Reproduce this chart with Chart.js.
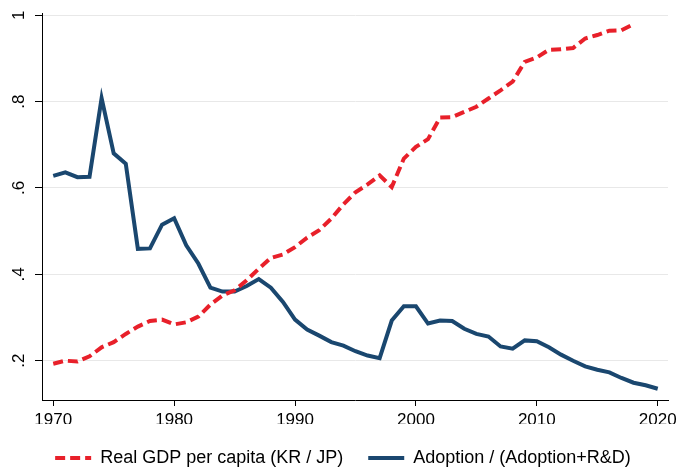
<!DOCTYPE html>
<html>
<head>
<meta charset="utf-8">
<script src="https://cdn.jsdelivr.net/npm/chart.js@4"></script>
<style>
  html, body { margin: 0; padding: 0; background: #fff; }
  #wrap { width: 678px; height: 470px; }
</style>
</head>
<body>
<div id="wrap"><canvas id="chart" width="678" height="470"></canvas></div>
<script>
const years = [];
for (let y = 1970; y <= 2020; y++) years.push(y);

// Real GDP per capita, Korea relative to Japan (ends 2018)
const gdpRatio = [
  0.193, 0.200, 0.198, 0.210, 0.231, 0.243, 0.262, 0.279, 0.292, 0.295,
  0.284, 0.289, 0.302, 0.330, 0.351, 0.363, 0.386, 0.413, 0.438, 0.446,
  0.463, 0.485, 0.502, 0.529, 0.562, 0.590, 0.608, 0.629, 0.602, 0.668,
  0.695, 0.713, 0.763, 0.764, 0.776, 0.788, 0.807, 0.826, 0.846, 0.892,
  0.902, 0.920, 0.921, 0.924, 0.946, 0.954, 0.964, 0.965, 0.979
];

// Adoption / (Adoption + R&D)
const adoptionShare = [
  0.628, 0.636, 0.625, 0.626, 0.808, 0.680, 0.656, 0.459, 0.460, 0.515,
  0.530, 0.467, 0.425, 0.369, 0.360, 0.360, 0.373, 0.389, 0.369, 0.336,
  0.295, 0.272, 0.258, 0.243, 0.235, 0.222, 0.212, 0.206, 0.293, 0.326,
  0.326, 0.286, 0.293, 0.292, 0.274, 0.262, 0.256, 0.233, 0.228, 0.247,
  0.245, 0.231, 0.214, 0.200, 0.187, 0.179, 0.173, 0.160, 0.149, 0.143,
  0.135
];

const xTicks = [1970, 1980, 1990, 2000, 2010, 2020];
const yTicks = [0.2, 0.4, 0.6, 0.8, 1];
const yTickLabels = ['.2', '.4', '.6', '.8', '1'];

const seriesNames = ['Real GDP per capita (KR / JP)', 'Adoption / (Adoption+R&D)'];

const toPoints = vals => vals.map((v, i) => ({ x: years[i], y: v }));

const FONT = "'Liberation Sans', Arial, sans-serif";

// no extra label padding around the plot area
const noPad = s => { s.paddingTop = s.paddingBottom = s.paddingLeft = s.paddingRight = 0; };

// nudge the legend row a little to the right, like the original
const legendShift = {
  id: 'legendShift',
  afterLayout(chart) {
    chart.legend.left += 9;
    chart.legend.right += 9;
  }
};

chartIt();

function chartIt() {
  const ctx = document.getElementById('chart');

  new Chart(ctx, {
    type: 'line',
    data: {
      datasets: [{
        label: seriesNames[0],
        data: toPoints(gdpRatio),
        borderColor: '#e8202a',
        backgroundColor: '#e8202a',
        borderWidth: 4,
        borderDash: [10, 5],
        pointRadius: 0,
        tension: 0
      }, {
        label: seriesNames[1],
        data: toPoints(adoptionShare),
        borderColor: '#1a476f',
        backgroundColor: '#1a476f',
        borderWidth: 4,
        pointRadius: 0,
        tension: 0
      }]
    },
    options: {
      responsive: false,
      animation: false,
      layout: { padding: { top: 13, right: 10, bottom: -7, left: 0 } },
      scales: {
        x: {
          type: 'linear',
          min: 1969.07,
          max: 2020.85,
          afterBuildTicks: s => { s.ticks = xTicks.map(v => ({ value: v })); },
          afterFit: s => { s.height = 24; noPad(s); },
          ticks: {
            color: '#000',
            font: { family: FONT, size: 17 },
            padding: 4,
            maxRotation: 0,
            callback: v => String(v)
          },
          grid: { drawOnChartArea: false, tickColor: '#000', tickLength: 6, tickWidth: 1 },
          border: { color: '#000', width: 1 }
        },
        y: {
          min: 0.109,
          max: 1.005,
          afterBuildTicks: s => { s.ticks = yTicks.map(v => ({ value: v })); },
          afterFit: s => { s.width = 42; noPad(s); },
          ticks: {
            color: '#000',
            font: { family: FONT, size: 17 },
            minRotation: 90,
            maxRotation: 90,
            crossAlign: 'center',
            padding: 9,
            callback: v => yTickLabels[yTicks.indexOf(v)]
          },
          grid: { color: '#e8e8e8', lineWidth: 1, tickColor: '#000', tickLength: 7, tickWidth: 1 },
          border: { color: '#000', width: 1 }
        }
      },
      plugins: {
        tooltip: { enabled: false },
        legend: {
          position: 'bottom',
          labels: {
            color: '#000',
            font: { family: FONT, size: 18 },
            usePointStyle: true,
            pointStyle: 'line',
            pointStyleWidth: 36,
            boxWidth: 36,
            padding: 25,
            generateLabels: chart => {
              const items = Chart.defaults.plugins.legend.labels.generateLabels(chart);
              items.forEach(it => {
                const ds = chart.data.datasets[it.datasetIndex];
                it.lineDash = ds.borderDash || [];
                it.lineWidth = ds.borderWidth;
                it.strokeStyle = ds.borderColor;
                it.pointStyle = 'line';
              });
              return items;
            }
          }
        }
      }
    },
    plugins: [legendShift]
  });
}
</script>
</body>
</html>
